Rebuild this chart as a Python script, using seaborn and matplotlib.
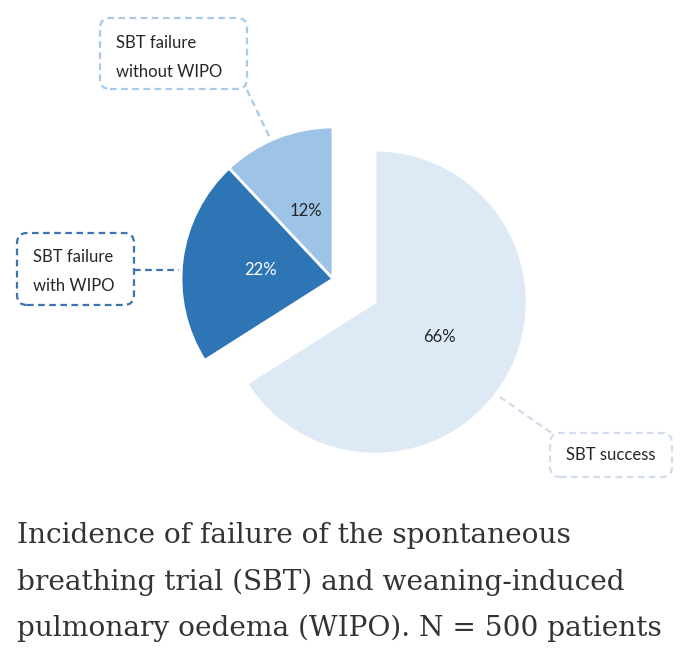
import matplotlib
matplotlib.use("Agg")
import matplotlib.pyplot as plt
from matplotlib.patches import FancyBboxPatch
import seaborn as sns

# data
groups = ["SBT failure\nwithout WIPO", "SBT failure\nwith WIPO", "SBT success"]
shares = [12, 22, 66]
caption = ("Incidence of failure of the spontaneous\n"
           "breathing trial (SBT) and weaning-induced\n"
           "pulmonary oedema (WIPO). N = 500 patients")

sns.set_theme(style="white")
plt.rcParams["font.family"] = ["Lato", "DejaVu Sans"]

colors = ["#9DC3E6", "#2E75B6", "#DEE9F6"]
box_edges = ["#A8C9E8", "#3C74AE", "#D3DBEE"]

H = 666


def py(y):
    # pixel row (from top) -> data y
    return H - y


fig = plt.figure(figsize=(6.8, 6.66), dpi=100)
ax = fig.add_axes([0, 0, 1, 1])

# explode is in data units here (pixels)
wedges, texts, pcts = ax.pie(
    shares, colors=colors, startangle=90, counterclock=True,
    explode=[0, 0, 48], center=(333, py(279)), radius=152,
    autopct=lambda p: f"{p:.0f}%", pctdistance=0.48,
    wedgeprops=dict(edgecolor="white", linewidth=2),
    textprops=dict(fontsize=12, color="#262626"))
pcts[1].set_color("white")

ax.set_xlim(0, 680)
ax.set_ylim(0, H)
ax.set_aspect("auto")
ax.axis("off")

# label boxes (x0, y0, x1, y1 in pixels), text x, text y, connector
boxes = [
    ((100, 18, 247, 89), 116, 57.5, "left", ((247, 90), (269, 136))),
    ((17, 233, 134, 305), 33, 271.5, "left", ((134, 270), (179, 270))),
    ((550, 433, 672, 477), 611, 455, "center", ((500, 397), (553, 434))),
]
for (bx, tx, ty, ha, conn), label, ec in zip(boxes, groups, box_edges):
    x0, y0, x1, y1 = bx
    ax.add_patch(FancyBboxPatch((x0, py(y1)), x1 - x0, y1 - y0,
                                boxstyle="round,pad=0,rounding_size=10",
                                fc="white", ec=ec, lw=1.6, ls=(0, (3, 2))))
    ax.text(tx, py(ty), label, ha=ha, va="center", fontsize=12,
            color="#262626", linespacing=1.95)
    (cx0, cy0), (cx1, cy1) = conn
    ax.plot([cx0, cx1], [py(cy0), py(cy1)], color=ec, lw=1.6, ls=(0, (3, 2)))

fig.text(17 / 680, 1 - 522 / H, caption, ha="left", va="top",
         family=["DejaVu Serif"], fontsize=20.2, color="#333333", linespacing=1.9)

fig.savefig("out.png", dpi=100, facecolor="white")
